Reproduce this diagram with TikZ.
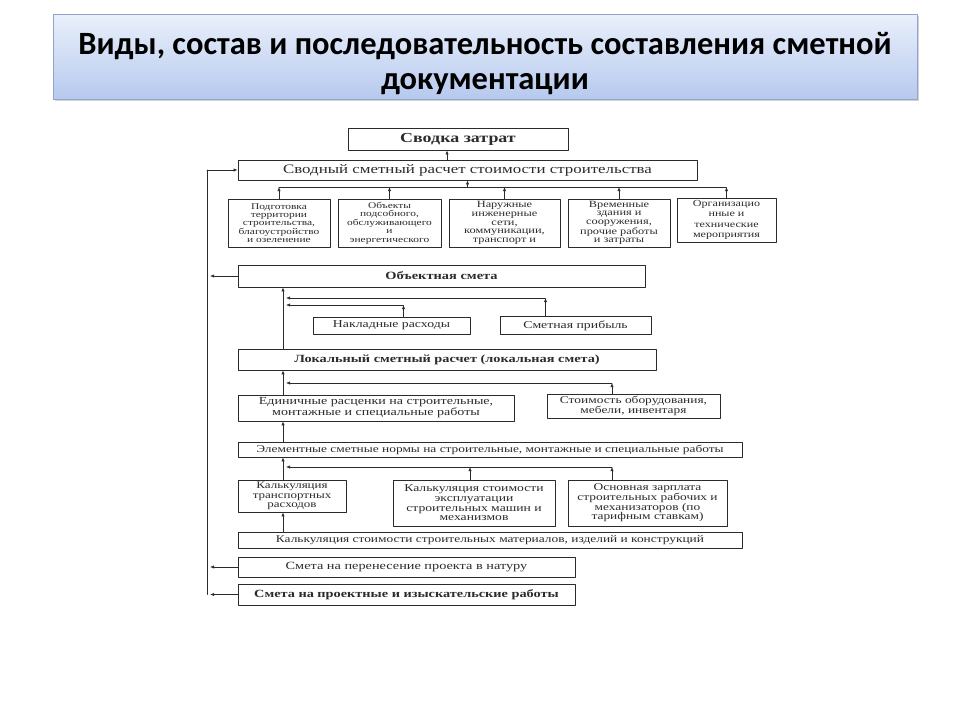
\documentclass[tikz,border=0pt]{standalone}
\usepackage{fontspec}
\usepackage{xcolor}
\usetikzlibrary{arrows.meta,calc,positioning,shadows}
\newfontfamily\diagfont{Liberation Serif}[FakeStretch=1.3]
\newfontfamily\headfont{Carlito}
\definecolor{headtop}{HTML}{EAF0FB}
\definecolor{headbot}{HTML}{B6C9EE}
\definecolor{headline}{HTML}{8FA5CB}
\definecolor{ink}{HTML}{2B2B2B}
\tikzset{
  box/.style={draw=ink, line width=0.7pt, inner sep=0pt, align=center, text=ink},
  fs/.style 2 args={font=\diagfont\fontsize{#1}{#2}\selectfont},
  bfs/.style 2 args={font=\diagfont\bfseries\fontsize{#1}{#2}\selectfont},
  arr/.style={draw=ink, line width=0.6pt, -{Latex[length=4pt,width=3.2pt]}},
  ln/.style={draw=ink, line width=0.6pt},
  every picture/.style={line cap=round, line join=round}
}
\begin{document}
\begin{tikzpicture}[x=1pt,y=-1pt]
  \useasboundingbox (0,0) rectangle (960,720);
  \node[draw=headline, line width=0.6pt, top color=headtop, bottom color=headbot,
    drop shadow={shadow xshift=1.5pt,shadow yshift=-2pt,opacity=0.35},
    minimum width=864pt, minimum height=85pt, align=center,
    font=\headfont\bfseries\fontsize{32.5}{35}\selectfont] (head) at (485,56.5)
    {\rule{0pt}{37pt}Виды, состав и последовательность составления сметной\\документации};

  \node[box,bfs={13.8}{14},minimum width=220pt,minimum height=22pt] (svod) at (458,139) {Сводка затрат};
  \node[box,fs={13}{14},minimum width=459pt,minimum height=20pt] (ssr) at (467.5,170) {Сводный сметный расчет стоимости строительства};
  \node[box,fs={8.8}{8.4},minimum width=102pt,minimum height=48pt] (podg) at (279,223) {Подготовка\\территории\\строительства,\\благоустройство\\и озеленение};
  \node[box,fs={8.8}{8.4},minimum width=103pt,minimum height=48pt] (obsl) at (389.5,223) {Объекты\\подсобного,\\обслуживающего\\и\\энергетического};
  \node[box,fs={9.5}{8.6},minimum width=111pt,minimum height=48pt] (nar) at (504.5,223) {Наружные\\инженерные\\сети,\\коммуникации,\\транспорт и};
  \node[box,fs={9.5}{8.6},minimum width=102pt,minimum height=48pt] (vrem) at (619,223) {Временные\\здания и\\сооружения,\\прочие работы\\и затраты};
  \node[box,fs={9.3}{10.4},minimum width=99pt,minimum height=44pt] (org) at (726.5,220) {Организацио\\нные и\\технические\\мероприятия};

  \node[box,bfs={11.1}{12},minimum width=407pt,minimum height=22pt] (obsm) at (441.5,276) {Объектная смета};
  \node[box,fs={10.6}{12},minimum width=157pt,minimum height=17pt] (nakl) at (391.5,325.5) {Накладные расходы};
  \node[box,fs={10.6}{12},minimum width=151pt,minimum height=18pt] (prib) at (575.5,325.5) {Сметная прибыль};
  \node[box,bfs={11}{12},minimum width=418pt,minimum height=21pt] (lsr) at (447,359.5) {Локальный сметный расчет (локальная смета)};

  \node[box,fs={10.8}{10.8},minimum width=276pt,minimum height=26pt] (edin) at (376,408) {Единичные расценки на строительные,\\монтажные и специальные работы};
  \node[box,fs={10.3}{10.5},minimum width=173pt,minimum height=24pt] (oborud) at (633.5,406) {Стоимость оборудования,\\мебели, инвентаря};
  \node[box,fs={10.3}{12},minimum width=504pt,minimum height=15pt] (elem) at (490,449.5) {Элементные сметные нормы на строительные, монтажные и специальные работы};

  \node[box,fs={10}{9.4},minimum width=108pt,minimum height=32pt] (ktr) at (292,496) {Калькуляция\\транспортных\\расходов};
  \node[box,fs={10.5}{9.6},minimum width=162pt,minimum height=46pt] (kexp) at (474,503) {Калькуляция стоимости\\эксплуатации\\строительных машин и\\механизмов};
  \node[box,fs={10.3}{9.6},minimum width=159pt,minimum height=46pt] (zarp) at (647.5,503) {Основная зарплата\\строительных рабочих и\\механизаторов (по\\тарифным ставкам)};
  \node[box,fs={10.3}{12},minimum width=504pt,minimum height=16pt] (kmat) at (490,540) {Калькуляция стоимости строительных материалов, изделий и конструкций};
  \node[box,fs={11}{12},minimum width=337pt,minimum height=20pt] (natura) at (406.5,567) {Смета на перенесение проекта в натуру};
  \node[box,bfs={11}{12},minimum width=337pt,minimum height=21pt] (proekt) at (406.5,594.5) {Смета на проектные и изыскательские работы};

  \coordinate (bus) at (0,187);
  \coordinate (lft) at (207,0);
  \coordinate (spine) at (283,0);

  \draw[arr] ([xshift=-11pt]svod.south |- ssr.north) -- ([xshift=-11pt]svod.south);
  \foreach \n in {podg,obsl,nar,vrem,org}
    \draw[arr] (\n.north) -- (\n.north |- bus);
  \draw[ln] (podg.north |- bus) -- (org.north |- bus);
  \draw[arr] (ssr.south |- bus) -- (ssr.south);

  \draw[arr] (spine |- lsr.north) -- (spine |- obsm.south);
  \draw[arr] ([xshift=12pt]nakl.north) -- ([xshift=12pt]nakl.north |- 0,305) coordinate (nk);
  \draw[arr] (nk) -- ([xshift=3pt]spine |- nk);
  \draw[arr] ([xshift=-30pt]prib.north) -- ([xshift=-30pt]prib.north |- 0,298) coordinate (pk);
  \draw[arr] (pk) -- ([xshift=3pt]spine |- pk);

  \draw[arr] (spine |- edin.north) -- (spine |- lsr.south);
  \draw[arr] ([xshift=-21.5pt]oborud.north) -- ([xshift=-21.5pt]oborud.north |- 0,383) coordinate (ok);
  \draw[arr] (ok) -- ([xshift=3pt]spine |- ok);
  \draw[arr] (spine |- elem.north) -- (spine |- edin.south);

  \draw[arr] (spine |- ktr.north) -- (spine |- elem.south);
  \draw[arr] ([xshift=-35.5pt]zarp.north) -- ([xshift=-35.5pt]zarp.north |- 0,467) coordinate (zk);
  \draw[arr] ([xshift=-4pt]kexp.north) -- ([xshift=-4pt]kexp.north |- zk);
  \draw[arr] (zk) -- ([xshift=3pt]spine |- zk);
  \draw[arr] (spine |- kmat.north) -- (spine |- ktr.south);

  \draw[arr] (lft |- ssr.west) -- (ssr.west);
  \draw[ln] (lft |- ssr.west) -- (lft |- proekt.west);
  \foreach \n in {obsm,natura,proekt}
    \draw[arr] (\n.west) -- ([xshift=3pt]lft |- \n.west);
\end{tikzpicture}
\end{document}
